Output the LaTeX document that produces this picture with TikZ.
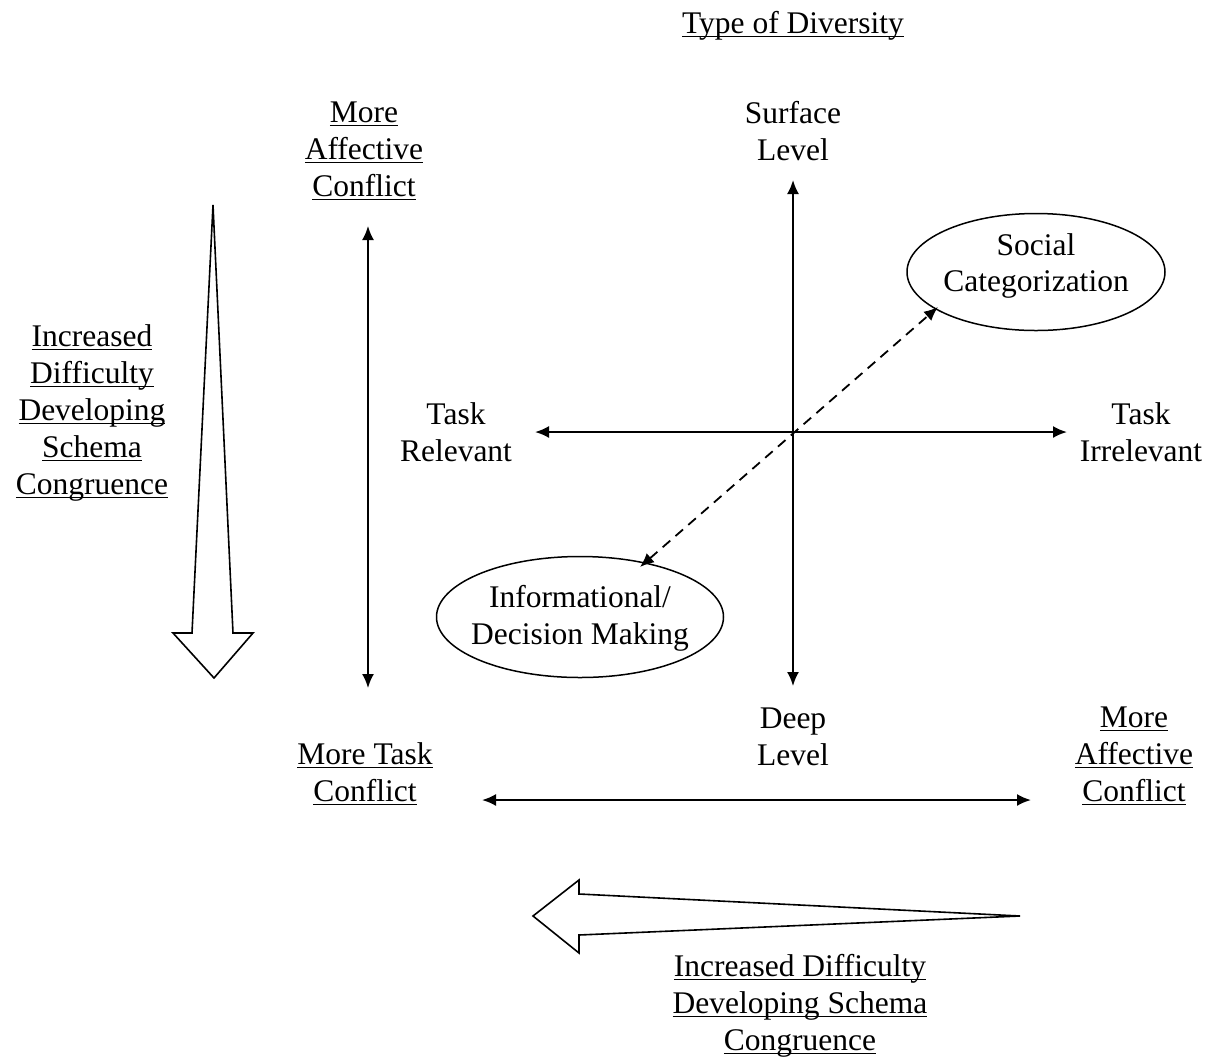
\documentclass[tikz,border=0pt]{standalone}
\usepackage{fontspec}
\setmainfont{Liberation Serif}
\usetikzlibrary{arrows.meta}
\newcommand\undl[1]{\underline{\smash{#1}}\vphantom{#1}}
\begin{document}
\begin{tikzpicture}[x=0.5pt,y=-0.5pt,
		txt/.style={
		  align=center,
		  inner sep=0pt,
		  font={\fontsize{15.75}{18.4}\selectfont}},
		oval/.style={
		  line width=0.75pt},
		axis/.style={
		  line width=1pt,
		  {Latex[length=7pt,width=6pt]}-{Latex[length=7pt,width=6pt]}},
		fat/.style={
		  draw,
		  fill=white,
		  line width=0.8pt,
		  line join=miter},
		]
		\useasboundingbox (0,0) rectangle (1207,1057);
		% labels
		\node[txt] (Typ) at (793,26) {\undl{Type of Diversity}};
		\node[txt] (MAt) at (364,151) {\undl{More}\\\undl{Affective}\\\undl{Conflict}};
		\node[txt] (Sur) at (793,131) {Surface\\Level};
		\node[txt] (Inc) at (92,413) {\undl{Increased}\\\undl{Difficulty}\\\undl{Developing}\\\undl{Schema}\\\undl{Congruence}};
		\node[txt] (TRe) at (456,432) {Task\\Relevant};
		\node[txt] (TIr) at (1141,432) {Task\\Irrelevant};
		\node[txt] (Dee) at (793,737) {Deep\\Level};
		\node[txt] (MTC) at (365,774) {\undl{More Task}\\\undl{Conflict}};
		\node[txt] (MAb) at (1134,756) {\undl{More}\\\undl{Affective}\\\undl{Conflict}};
		\node[txt] (IDb) at (800,1006) {\undl{Increased Difficulty}\\\undl{Developing Schema}\\\undl{Congruence}};
		% ovals
		\node[txt] (Soc) at (1036,266) {Social\\Categorization};
		\node[txt] (Inf) at (580,618) {Informational/\\Decision Making};
		\draw[oval] (1036,272) ellipse [x radius=129, y radius=58.5];
		\draw[oval] (580,617) ellipse [x radius=143.5, y radius=60.5];
		% axis ends
		\coordinate (vT) at (793,180);
		\coordinate (vB) at (793,686);
		\coordinate (hL) at (535,432);
		\coordinate (hR) at (1067,432);
		\coordinate (lT) at (368,226);
		\coordinate (lB) at (368,688);
		\coordinate (bL) at (482,800);
		\coordinate (bR) at (1031,800);
		\coordinate (dA) at (640,567);
		\coordinate (dB) at (938,307);
		\draw[axis] (vT) -- (vB);
		\draw[axis] (hL) -- (hR);
		\draw[axis] (lT) -- (lB);
		\draw[axis] (bL) -- (bR);
		\draw[axis,line width=0.9pt,dash pattern=on 5pt off 3.5pt] (dA) -- (dB);
		% big hollow arrows
		\draw[fat] (213,205) -- (233,633) -- (253,633) -- (214,678)
		  -- (173,633) -- (192,633) -- cycle;
		\draw[fat] (1020,916) -- (579,935) -- (579,953) -- (533,916)
		  -- (579,880) -- (579,894) -- cycle;
		\end{tikzpicture}
\end{document}
